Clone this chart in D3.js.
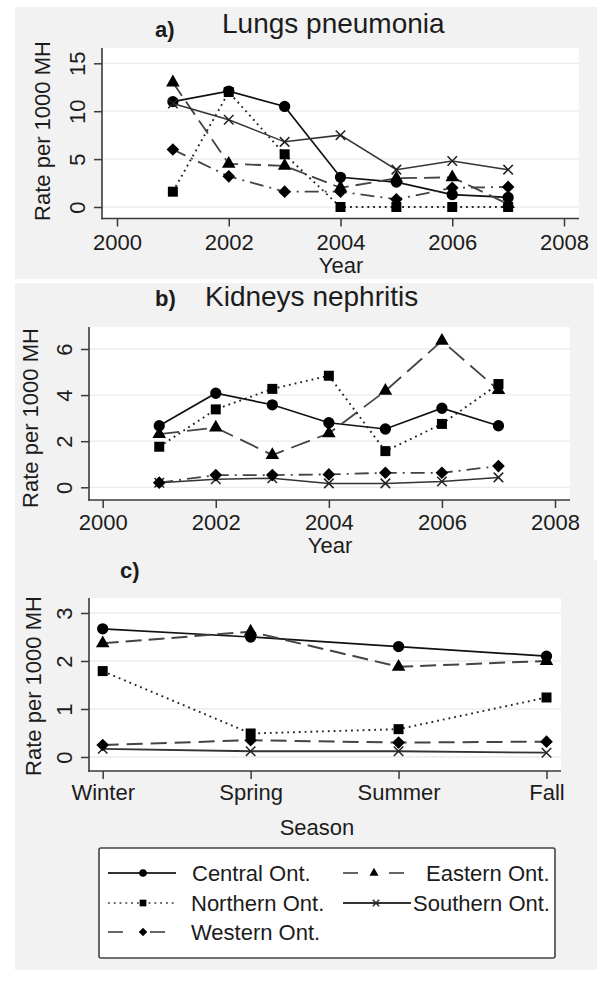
<!DOCTYPE html>
<html><head><meta charset="utf-8">
<script src="https://cdn.jsdelivr.net/npm/d3@7"></script>
<style>
body{margin:0;background:#fff}
svg{display:block}
text{font-family:"Liberation Sans",Arial,Helvetica,sans-serif;fill:#1c1c1c}
</style>
</head><body>
<svg id="chart" width="600" height="983"></svg>
<script>
// ---------------- DATA ----------------
const years = [2001, 2002, 2003, 2004, 2005, 2006, 2007];
const yearTicks = [2000, 2002, 2004, 2006, 2008];
const seasons = ["Winter", "Spring", "Summer", "Fall"];
const regions = ["Central Ont.", "Eastern Ont.", "Northern Ont.", "Southern Ont.", "Western Ont."];

// a) Lungs pneumonia (rate per 1000 MH)
const lungsCentral  = [11.0, 12.1, 10.5, 3.1, 2.6, 1.3, 1.0];
const lungsEastern  = [13.0, 4.5, 4.3, 2.0, 3.0, 3.1, 0.3];
const lungsNorthern = [1.6, 12.0, 5.5, 0.0, 0.0, 0.0, 0.0];
const lungsSouthern = [10.8, 9.1, 6.8, 7.5, 3.9, 4.8, 3.9];
const lungsWestern  = [6.0, 3.2, 1.6, 1.6, 0.8, 2.0, 2.1];
const lungsTicks = [0, 5, 10, 15];

// b) Kidneys nephritis
const kidneyCentral  = [2.67, 4.08, 3.58, 2.8, 2.53, 3.43, 2.67];
const kidneyEastern  = [2.31, 2.59, 1.4, 2.34, 4.18, 6.35, 4.22];
const kidneyNorthern = [1.76, 3.38, 4.27, 4.84, 1.57, 2.75, 4.48];
const kidneySouthern = [0.2, 0.35, 0.39, 0.17, 0.17, 0.25, 0.43];
const kidneyWestern  = [0.2, 0.53, 0.53, 0.56, 0.63, 0.63, 0.92];
const kidneyTicks = [0, 2, 4, 6];

// c) by season
const seasonCentral  = [2.67, 2.5, 2.3, 2.1];
const seasonEastern  = [2.37, 2.61, 1.88, 2.0];
const seasonNorthern = [1.79, 0.49, 0.58, 1.24];
const seasonSouthern = [0.17, 0.12, 0.12, 0.09];
const seasonWestern  = [0.25, 0.35, 0.3, 0.32];
const seasonTicks = [0, 1, 2, 3];

// ---------------- STYLE ----------------
const svg = d3.select("#chart");
const BG = "#f2f2f2";
const AXIS = "#3a3a3a";
const FONT = 22;

const crossType = { draw(ctx, size) { const r = Math.sqrt(size) / 2; ctx.moveTo(-r, -r); ctx.lineTo(r, r); ctx.moveTo(r, -r); ctx.lineTo(-r, r); } };
const diamondType = { draw(ctx, size) { const r = Math.sqrt(size) / 2 * Math.SQRT2; ctx.moveTo(0, -r); ctx.lineTo(r, 0); ctx.lineTo(0, r); ctx.lineTo(-r, 0); ctx.closePath(); } };

const styles = {
  "Central Ont.":  { sym: d3.symbolCircle,   size: 100, color: "#111", width: 1.7, dash: null, fill: true },
  "Eastern Ont.":  { sym: d3.symbolTriangle, size: 80,  color: "#444", width: 1.8, dash: "16,7", fill: true },
  "Northern Ont.": { sym: d3.symbolSquare,   size: 100, color: "#222", width: 1.9, dash: "1.8,4", fill: true },
  "Southern Ont.": { sym: crossType,         size: 90,  color: "#333", width: 1.5, dash: null, fill: false },
  "Western Ont.":  { sym: diamondType,       size: 80,  color: "#444", width: 1.8, dash: "14,6,2,6", fill: true }
};

function drawMarker(g, style, x, y, scale) {
  const p = d3.symbol().type(style.sym).size(style.size * (scale || 1))();
  const m = g.append("path").attr("d", p).attr("transform", `translate(${x},${y})`);
  if (style.fill) m.attr("fill", "#000").attr("stroke", "none");
  else m.attr("fill", "none").attr("stroke", "#222").attr("stroke-width", 1.5);
}

function panel(o) {
  const g = svg.append("g");
  g.append("rect").attr("x", o.bg[0]).attr("y", o.bg[1]).attr("width", o.bg[2]).attr("height", o.bg[3]).attr("fill", BG);
  g.append("rect").attr("x", o.left).attr("y", o.top).attr("width", o.right - o.left).attr("height", o.bottom - o.top).attr("fill", "#fff");

  const x = o.x, y = o.y;
  // gridlines
  g.selectAll(".grid").data(o.yTicks).join("line")
    .attr("x1", o.left).attr("x2", o.right)
    .attr("y1", d => y(d)).attr("y2", d => y(d))
    .attr("stroke", "#ebebeb").attr("stroke-width", 1.3);

  // y axis
  const ya = g.append("g").attr("transform", `translate(${o.left},0)`)
    .call(d3.axisLeft(y).tickValues(o.yTicks).tickFormat(d3.format("d")).tickSize(8).tickSizeOuter(0));
  ya.select(".domain").remove();
  ya.selectAll(".tick line").attr("stroke", AXIS).attr("stroke-width", 1.5);
  ya.selectAll(".tick text").attr("x", null).attr("dy", null)
    .attr("text-anchor", "middle").attr("transform", "translate(-17.5,0) rotate(-90)")
    .style("font-size", FONT + "px").style("font-family", "Liberation Sans, Arial, sans-serif").attr("fill", "#1c1c1c");

  // x axis
  const xa = g.append("g").attr("transform", `translate(0,${o.bottom})`)
    .call(d3.axisBottom(x).tickValues(o.xTicks).tickFormat(o.xFormat).tickSize(8).tickSizeOuter(0));
  xa.select(".domain").remove();
  xa.selectAll(".tick line").attr("stroke", AXIS).attr("stroke-width", 1.5);
  xa.selectAll(".tick text").attr("y", o.xLabelY).attr("dy", null)
    .style("font-size", FONT + "px").style("font-family", "Liberation Sans, Arial, sans-serif").attr("fill", "#1c1c1c");

  // axis lines
  g.append("line").attr("x1", o.left).attr("x2", o.left).attr("y1", o.top).attr("y2", o.bottom + 0.75)
    .attr("stroke", AXIS).attr("stroke-width", 1.6);
  g.append("line").attr("x1", o.left - 0.75).attr("x2", o.right).attr("y1", o.bottom).attr("y2", o.bottom)
    .attr("stroke", AXIS).attr("stroke-width", 1.6);

  // axis titles
  g.append("text").attr("transform", `translate(${o.yTitleX},${o.yTitleY}) rotate(-90)`)
    .attr("text-anchor", "middle").style("font-size", FONT + "px").text("Rate per 1000 MH");
  g.append("text").attr("x", o.xTitleX).attr("y", o.xTitleY)
    .attr("text-anchor", "middle").style("font-size", FONT + "px").text(o.xTitle);

  // panel letter and title
  g.append("text").attr("x", o.letterX).attr("y", o.letterY).style("font-size", "22px")
    .style("font-weight", "bold").attr("fill", "#1a1a33").text(o.letter);
  if (o.title) g.append("text").attr("x", o.titleX).attr("y", o.titleY).style("font-size", "28px").text(o.title);

  // series
  o.series.forEach(s => {
    const st = styles[s.name];
    const dash = (s.dash !== undefined) ? s.dash : st.dash;
    const pts = s.values.map((v, i) => [x(o.xs[i]), y(v)]);
    g.append("path").attr("d", d3.line()(pts)).attr("fill", "none")
      .attr("stroke", st.color).attr("stroke-width", s.width || st.width)
      .attr("stroke-dasharray", dash);
    pts.forEach(p => drawMarker(g, st, p[0], p[1]));
  });
}

// ---------- Panel a ----------
panel({
  bg: [15, 7, 582, 272], left: 102, right: 579, top: 48, bottom: 218.5,
  x: d3.scaleLinear().domain([2000, 2008]).range([117, 564]),
  y: d3.scaleLinear().domain([0, 15]).range([207, 63.3]),
  xs: years, xTicks: yearTicks, xFormat: d3.format("d"), yTicks: lungsTicks,
  xLabelY: 31.5, xTitle: "Year", xTitleX: 341, xTitleY: 273,
  yTitleX: 50, yTitleY: 131,
  letter: "a)", letterX: 155, letterY: 37, title: "Lungs pneumonia", titleX: 222, titleY: 33,
  series: [
    { name: regions[0], values: lungsCentral },
    { name: regions[1], values: lungsEastern },
    { name: regions[2], values: lungsNorthern },
    { name: regions[3], values: lungsSouthern },
    { name: regions[4], values: lungsWestern }
  ]
});

// ---------- Panel b ----------
panel({
  bg: [15, 283, 579, 278], left: 89, right: 570, top: 327, bottom: 500,
  x: d3.scaleLinear().domain([2000, 2008]).range([102.7, 555]),
  y: d3.scaleLinear().domain([0, 6]).range([487.3, 349]),
  xs: years, xTicks: yearTicks, xFormat: d3.format("d"), yTicks: kidneyTicks,
  xLabelY: 30, xTitle: "Year", xTitleX: 330, xTitleY: 553,
  yTitleX: 38, yTitleY: 418,
  letter: "b)", letterX: 155, letterY: 306, title: "Kidneys nephritis", titleX: 205, titleY: 306,
  series: [
    { name: regions[0], values: kidneyCentral },
    { name: regions[1], values: kidneyEastern, dash: "20,8" },
    { name: regions[2], values: kidneyNorthern },
    { name: regions[3], values: kidneySouthern },
    { name: regions[4], values: kidneyWestern }
  ]
});

// ---------- Panel c ----------
const seasonIdx = seasons.map((s, i) => i);
panel({
  bg: [15, 560, 582, 410], left: 89, right: 561, top: 598, bottom: 771,
  x: d3.scaleLinear().domain([0, 3]).range([102.7, 546.5]),
  y: d3.scaleLinear().domain([0, 3]).range([757, 613]),
  xs: seasonIdx, xTicks: seasonIdx, xFormat: i => seasons[i], yTicks: seasonTicks,
  xLabelY: 29, xTitle: "Season", xTitleX: 317, xTitleY: 835,
  yTitleX: 41, yTitleY: 686,
  letter: "c)", letterX: 120, letterY: 578, title: null,
  series: [
    { name: regions[0], values: seasonCentral },
    { name: regions[1], values: seasonEastern, width: 2 },
    { name: regions[2], values: seasonNorthern },
    { name: regions[3], values: seasonSouthern, width: 1.8 },
    { name: regions[4], values: seasonWestern, dash: "16,8", width: 2 }
  ]
});

// ---------- Legend ----------
const lg = svg.append("g");
lg.append("rect").attr("x", 99).attr("y", 848).attr("width", 456).attr("height", 110).attr("rx", 2)
  .attr("fill", "#fff").attr("stroke", "#444").attr("stroke-width", 1.6);
const legendItems = [
  { name: regions[0], col: 0, row: 0, dash: null },
  { name: regions[1], col: 1, row: 0, dash: "15,31" },
  { name: regions[2], col: 0, row: 1, dash: "1.8,4" },
  { name: regions[3], col: 1, row: 1, dash: null },
  { name: regions[4], col: 0, row: 2, dash: "15,27" }
];
const colKey = [{ x1: 108, x2: 176, m: 143 }, { x1: 343, x2: 407, m: 374 }];
const textX = { "Central Ont.": 192, "Northern Ont.": 191, "Western Ont.": 191, "Eastern Ont.": 426, "Southern Ont.": 413 };
const rowY = [873, 903, 932];
legendItems.forEach(it => {
  const st = styles[it.name];
  const k = colKey[it.col];
  const yy = rowY[it.row];
  let x2 = k.x2;
  if (it.name === "Southern Ont.") x2 = 411;
  lg.append("line").attr("x1", k.x1).attr("x2", x2).attr("y1", yy).attr("y2", yy)
    .attr("stroke", it.name === "Central Ont." || it.name === "Southern Ont." ? "#333" : "#666")
    .attr("stroke-width", it.dash && it.dash.startsWith("1.8") ? 1.8 : 2).attr("stroke-dasharray", it.dash);
  const m = it.name === "Southern Ont." ? 376 : k.m;
  drawMarker(lg, st, m, yy, 0.45);
  lg.append("text").attr("x", textX[it.name]).attr("y", yy + 8).style("font-size", FONT + "px").text(it.name);
});
</script>
</body></html>
